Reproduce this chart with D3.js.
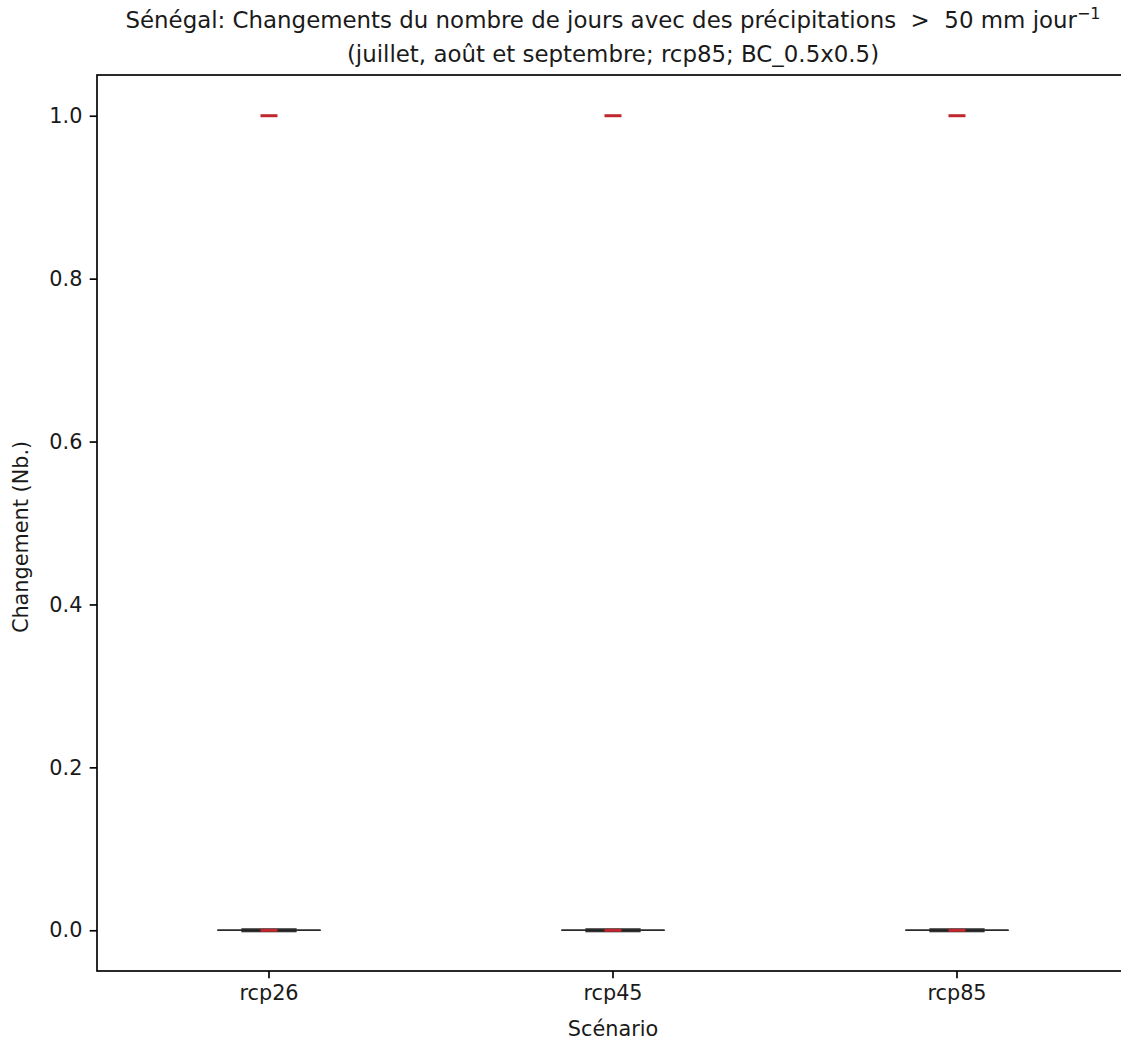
<!DOCTYPE html>
<html>
<head>
<meta charset="utf-8">
<script src="https://cdn.jsdelivr.net/npm/d3@7"></script>
<style>
  html, body { margin: 0; padding: 0; background: #fff; overflow: hidden; }
  text { font-family: "DejaVu Sans", sans-serif; fill: #1a1a1a; white-space: pre; }
</style>
</head>
<body>
<svg id="chart" width="1121" height="1043"></svg>
<script>
// ---- data ----
const scenarios = ["rcp26", "rcp45", "rcp85"];
const rcp26Values = [0, 0, 0, 0, 0, 1];
const rcp45Values = [0, 0, 0, 0, 0, 1];
const rcp85Values = [0, 0, 0, 0, 0, 1];
const yTicks = [0.0, 0.2, 0.4, 0.6, 0.8, 1.0];
const yDomain = [-0.05, 1.05];
const titleLine1 = "Sénégal: Changements du nombre de jours avec des précipitations  >  50 mm jour";
const titleSup = "−1";
const titleLine2 = "(juillet, août et septembre; rcp85; BC_0.5x0.5)";
const xLabel = "Scénario";
const yLabel = "Changement (Nb.)";

const seriesByScenario = { rcp26: rcp26Values, rcp45: rcp45Values, rcp85: rcp85Values };

// ---- layout ----
const svg = d3.select("#chart");
const m = { left: 97, right: 1129, top: 75, bottom: 971 };
const fs = 20.8, fsTitle = 22.9, lw = 1.67;

const x = d3.scaleBand().domain(scenarios).range([m.left, m.right]).padding(0);
const y = d3.scaleLinear().domain(yDomain).range([m.bottom, m.top]);
const bw = x.bandwidth();

// boxes
const g = svg.append("g");
scenarios.forEach(s => {
  const vals = seriesByScenario[s].slice().sort(d3.ascending);
  const q1 = d3.quantile(vals, 0.25), q3 = d3.quantile(vals, 0.75), med = d3.median(vals);
  const iqr = q3 - q1;
  const lo = d3.min(vals.filter(v => v >= q1 - 1.5 * iqr));
  const hi = d3.max(vals.filter(v => v <= q3 + 1.5 * iqr));
  const cx = x(s) + bw / 2;
  // caps / whiskers
  [lo, hi].forEach(v => {
    g.append("line").attr("x1", cx - bw * 0.15).attr("x2", cx + bw * 0.15)
      .attr("y1", y(v)).attr("y2", y(v)).attr("stroke", "#2a2a2a").attr("stroke-width", lw);
  });
  g.append("line").attr("x1", cx).attr("x2", cx).attr("y1", y(lo)).attr("y2", y(hi))
    .attr("stroke", "#2a2a2a").attr("stroke-width", lw);
  // box
  g.append("rect").attr("x", cx - bw * 0.078).attr("width", bw * 0.156)
    .attr("y", y(q3) - 1.2).attr("height", Math.max(0, y(q1) - y(q3)) + 2.4)
    .attr("fill", "none").attr("stroke", "#333").attr("stroke-width", lw);
  // median
  g.append("line").attr("x1", cx - bw * 0.078).attr("x2", cx + bw * 0.078)
    .attr("y1", y(med)).attr("y2", y(med)).attr("stroke", "#222").attr("stroke-width", lw);
  // individual values (red dashes)
  Array.from(new Set(vals)).forEach(v => {
    g.append("line").attr("x1", cx - 8.5).attr("x2", cx + 8.5)
      .attr("y1", y(v)).attr("y2", y(v)).attr("stroke", "#c0262b").attr("stroke-width", 3);
  });
});

// axes
const yAxis = d3.axisLeft(y).tickValues(yTicks).tickFormat(d3.format(".1f")).tickSizeOuter(0).tickSize(7.3).tickPadding(7.3);
const xAxis = d3.axisBottom(x).tickSizeOuter(0).tickSize(7.3).tickPadding(7.3);

const ya = svg.append("g").attr("transform", `translate(${m.left},0)`).call(yAxis);
const xa = svg.append("g").attr("transform", `translate(0,${m.bottom})`).call(xAxis);
[ya, xa].forEach(a => {
  a.select(".domain").remove();
  a.selectAll(".tick line").attr("stroke", "#000").attr("stroke-width", lw);
  a.selectAll(".tick text").attr("font-size", fs).attr("font-family", "DejaVu Sans").attr("fill", "#1a1a1a");
});

// spines
svg.append("rect").attr("x", m.left).attr("y", m.top)
  .attr("width", m.right - m.left).attr("height", m.bottom - m.top)
  .attr("fill", "none").attr("stroke", "#000").attr("stroke-width", lw);

// labels
const cxAxes = (m.left + m.right) / 2;
svg.append("text").attr("x", cxAxes).attr("y", 1036).attr("text-anchor", "middle")
  .attr("font-size", fs).text(xLabel);
svg.append("text").attr("transform", `translate(28,537) rotate(-90)`)
  .attr("text-anchor", "middle").attr("font-size", fs).text(yLabel);

const t1 = svg.append("text").attr("x", cxAxes).attr("y", 28).attr("text-anchor", "middle").attr("font-size", fsTitle);
t1.append("tspan").text(titleLine1);
t1.append("tspan").attr("font-size", 16).attr("dy", -9).text(titleSup);
svg.append("text").attr("x", cxAxes).attr("y", 62).attr("text-anchor", "middle")
  .attr("font-size", fsTitle).text(titleLine2);
</script>
</body>
</html>
